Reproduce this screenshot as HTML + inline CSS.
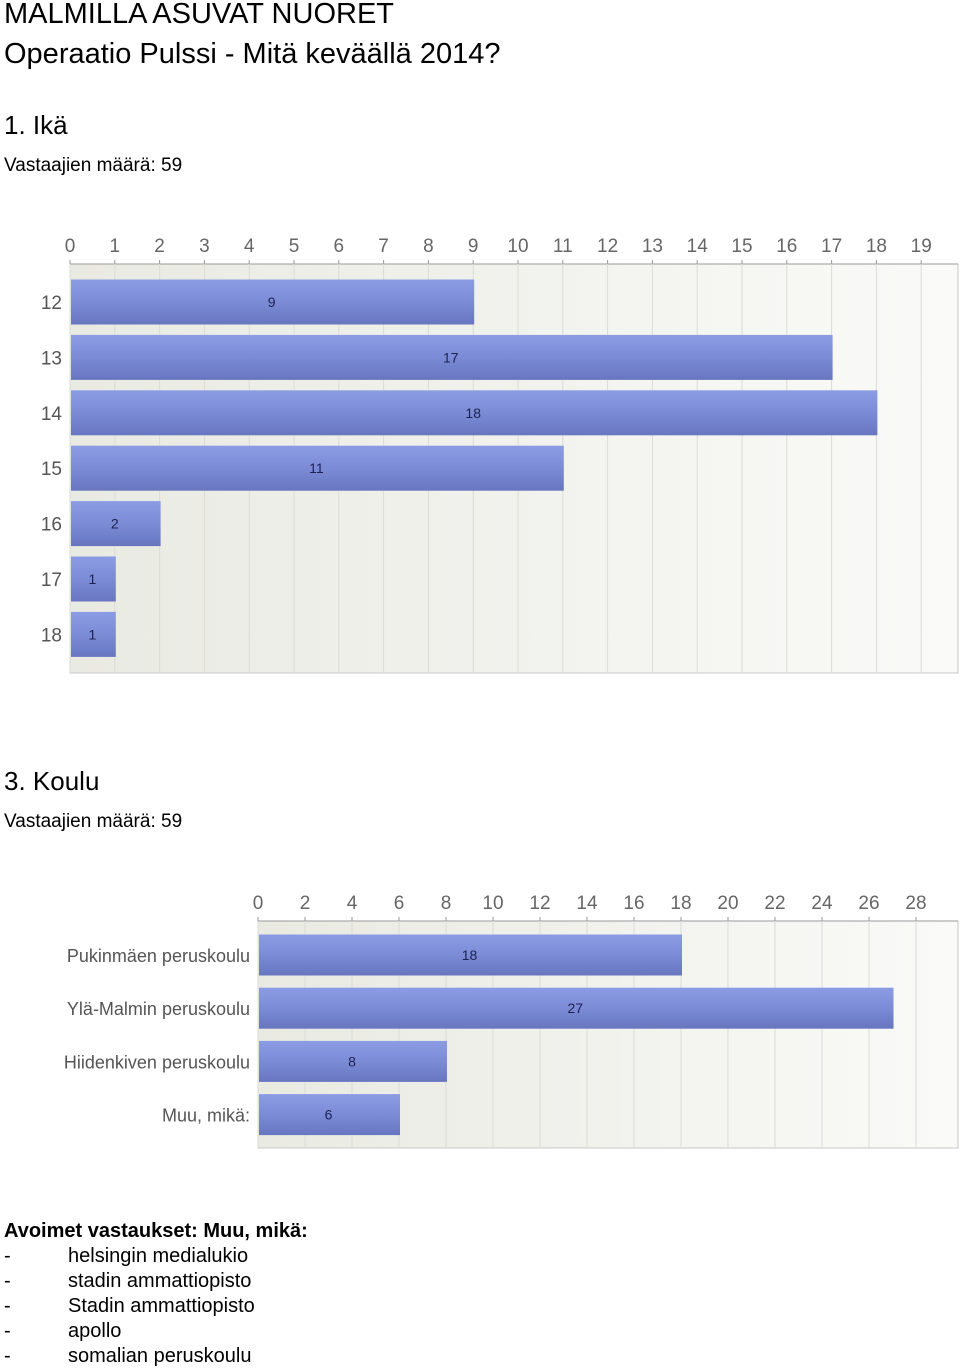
<!DOCTYPE html>
<html><head><meta charset="utf-8"><style>
html,body{margin:0;padding:0;background:#fff;}
svg{display:block;font-family:"Liberation Sans",sans-serif;}
</style></head><body>
<svg id="page" width="960" height="1369" viewBox="0 0 960 1369" xmlns="http://www.w3.org/2000/svg">
<defs>
<linearGradient id="bar" x1="0" y1="0" x2="0" y2="1">
<stop offset="0" stop-color="#8c9ce4"/><stop offset="0.5" stop-color="#7b8bd6"/><stop offset="1" stop-color="#6876c0"/>
</linearGradient>
<linearGradient id="bg" x1="0" y1="0" x2="1" y2="0">
<stop offset="0" stop-color="#e9eae2"/><stop offset="1" stop-color="#fafaf8"/>
</linearGradient>
</defs>
<text x="4" y="23" font-size="29" fill="#000">MALMILLA ASUVAT NUORET</text>
<text x="4" y="63" font-size="29" fill="#000">Operaatio Pulssi - Mitä keväällä 2014?</text>
<text x="4" y="134" font-size="26" fill="#000">1. Ikä</text>
<text x="4" y="171" font-size="19" fill="#000">Vastaajien määrä: 59</text>
<g id="chart1"></g>
<text x="4" y="790" font-size="26" fill="#000">3. Koulu</text>
<text x="4" y="827" font-size="19" fill="#000">Vastaajien määrä: 59</text>
<g id="chart2"></g>
<g font-size="20" fill="#000">
<text x="4" y="1237" font-weight="bold">Avoimet vastaukset: Muu, mikä:</text>
<text x="4" y="1262">-</text><text x="68" y="1262">helsingin medialukio</text>
<text x="4" y="1287">-</text><text x="68" y="1287">stadin ammattiopisto</text>
<text x="4" y="1312">-</text><text x="68" y="1312">Stadin ammattiopisto</text>
<text x="4" y="1337">-</text><text x="68" y="1337">apollo</text>
<text x="4" y="1362">-</text><text x="68" y="1362">somalian peruskoulu</text>
</g>
</svg>
<script>
var ageCategories = ["12","13","14","15","16","17","18"];
var ageValues = [9,17,18,11,2,1,1];
var ageTicks = [0,1,2,3,4,5,6,7,8,9,10,11,12,13,14,15,16,17,18,19];
var schoolCategories = ["Pukinmäen peruskoulu","Ylä-Malmin peruskoulu","Hiidenkiven peruskoulu","Muu, mikä:"];
var schoolValues = [18,27,8,6];
var schoolTicks = [0,2,4,6,8,10,12,14,16,18,20,22,24,26,28];
var NS = "http://www.w3.org/2000/svg";
function mk(tag, attrs, parent){var e=document.createElementNS(NS,tag);for(var k in attrs)e.setAttribute(k,attrs[k]);parent.appendChild(e);return e;}
function draw(g, cats, vals, ticks, o){
  var x = function(v){return o.x0 + v*o.ppu;};
  var bg = mk('rect',{x:o.x0,y:o.y0,width:o.x1-o.x0,height:o.y1-o.y0,fill:'url(#bg)',stroke:'#c8c8c8'},g);
  
  
  mk('line',{x1:o.x0,y1:o.y0,x2:o.x1,y2:o.y0,stroke:'#999'},g);
  ticks.forEach(function(t){
    var gl = mk('line',{x1:x(t),y1:o.y0,x2:x(t),y2:o.y1,stroke:'#dcdcd6'},g);
    
    
    mk('line',{x1:x(t),y1:o.y0-4,x2:x(t),y2:o.y0,stroke:'#999'},g);
    var tl = mk('text',{x:x(t),y:o.y0-12,'font-size':19,fill:'#666','text-anchor':'middle'},g);
    tl.textContent = t;
    
    
  });
  cats.forEach(function(c,i){
    var yc = o.yFirst + i*o.band;
    var r = mk('rect',{x:o.x0+1,y:yc-o.bh/2,width:vals[i]*o.ppu,height:o.bh,fill:'url(#bar)'},g);
    
    
    var cl = mk('text',{x:o.x0-8,y:yc+7,'font-size':o.cfs,fill:'#555','text-anchor':'end'},g);
    cl.textContent = c;
    
    
    var vl = mk('text',{x:x(vals[i]/2),y:yc+5,'font-size':14,fill:'#1c2250','text-anchor':'middle'},g);
    vl.textContent = vals[i];
    
    
  });
}
draw(document.getElementById('chart1'), ageCategories, ageValues, ageTicks,
  {x0:70,x1:958,y0:264,y1:673,ppu:44.8,yFirst:302,band:55.4,bh:45,cfs:19});
draw(document.getElementById('chart2'), schoolCategories, schoolValues, schoolTicks,
  {x0:258,x1:958,y0:921,y1:1148,ppu:23.5,yFirst:955,band:53.2,bh:41,cfs:18});
</script>
</body></html>
